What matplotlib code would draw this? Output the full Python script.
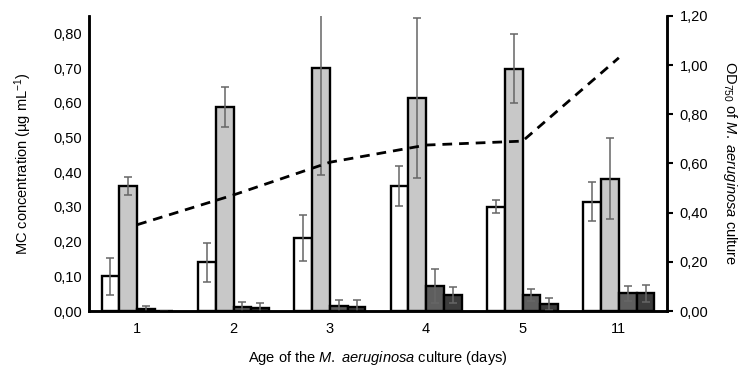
import matplotlib
matplotlib.use("Agg")
import matplotlib.pyplot as plt
import numpy as np
from matplotlib.ticker import FuncFormatter, MultipleLocator

plt.rcParams['font.family'] = ['Liberation Sans', 'DejaVu Sans']
plt.rcParams['mathtext.fontset'] = 'custom'
plt.rcParams['mathtext.rm'] = 'Liberation Sans'
plt.rcParams['mathtext.it'] = 'Liberation Sans:italic'

categories = ["1", "2", "3", "4", "5", "11"]

white_vals = [0.100, 0.140, 0.210, 0.360, 0.301, 0.315]
white_err = [0.053, 0.055, 0.067, 0.058, 0.018, 0.057]
light_vals = [0.360, 0.587, 0.700, 0.614, 0.698, 0.381]
light_err = [0.025, 0.058, 0.307, 0.230, 0.100, 0.117]
dark1_vals = [0.005, 0.012, 0.015, 0.072, 0.046, 0.051]
dark1_err = [0.008, 0.014, 0.018, 0.048, 0.017, 0.021]
dark2_vals = [0.000, 0.008, 0.012, 0.046, 0.021, 0.051]
dark2_err = [0.000, 0.014, 0.020, 0.024, 0.017, 0.024]

od_vals = [0.351, 0.472, 0.605, 0.675, 0.691, 1.030]

fig = plt.figure(figsize=(7.38, 3.71), dpi=100)
ax = fig.add_axes([0.1206, 0.1617, 0.7832, 0.7952])
ax2 = ax.twinx()

x = np.arange(len(categories))
w = 0.185
series = [
    (white_vals, white_err, "#ffffff"),
    (light_vals, light_err, "#c8c8c8"),
    (dark1_vals, dark1_err, "#5e5e5e"),
    (dark2_vals, dark2_err, "#3c3c3c"),
]
offsets = [-1.5, -0.5, 0.5, 1.5]
for (vals, errs, col), off in zip(series, offsets):
    ax.bar(x + off * w, vals, width=w, color=col, edgecolor="black", linewidth=1.7, zorder=2)
    ax.errorbar(x + off * w, vals, yerr=errs, fmt="none", ecolor="#666666",
                elinewidth=1.1, capsize=3, capthick=1.1, zorder=3)

ax2.plot(x, od_vals, color="black", linestyle=(0, (3.5, 2.5)), linewidth=2, zorder=4)

ax.set_xlim(-0.5, 5.5)
ax.set_ylim(0, 0.85)
ax2.set_ylim(0, 1.2)
ax.set_xticks(x)
ax.set_xticklabels(categories)
ax.yaxis.set_major_locator(MultipleLocator(0.1))
ax2.yaxis.set_major_locator(MultipleLocator(0.2))
fmt = FuncFormatter(lambda v, p: f"{v:.2f}".replace(".", ","))
ax.yaxis.set_major_formatter(fmt)
ax2.yaxis.set_major_formatter(fmt)

for a in (ax, ax2):
    a.spines['top'].set_visible(False)
    for s in ('left', 'right', 'bottom'):
        a.spines[s].set_linewidth(1.8)
ax.tick_params(axis='x', length=0, labelsize=10.5, pad=8)
ax.tick_params(axis='y', length=0, labelsize=10.5, pad=5)
ax2.tick_params(axis='y', length=4, width=1.5, labelsize=10.5, pad=5)

ax.set_ylabel(r"MC concentration (µg mL$^{\mathregular{-1}}$)", fontsize=10.5, labelpad=14)
ax2.set_ylabel(r"OD$_{\mathregular{750}}$ of $\mathit{M.}$ $\mathit{aeruginosa}$ culture", fontsize=10.5,
               rotation=270, labelpad=22)
ax.set_xlabel(r"Age of the $\mathit{M.}$ $\mathit{aeruginosa}$ culture (days)", fontsize=10.5, labelpad=9)

fig.savefig("out.png", dpi=100)
